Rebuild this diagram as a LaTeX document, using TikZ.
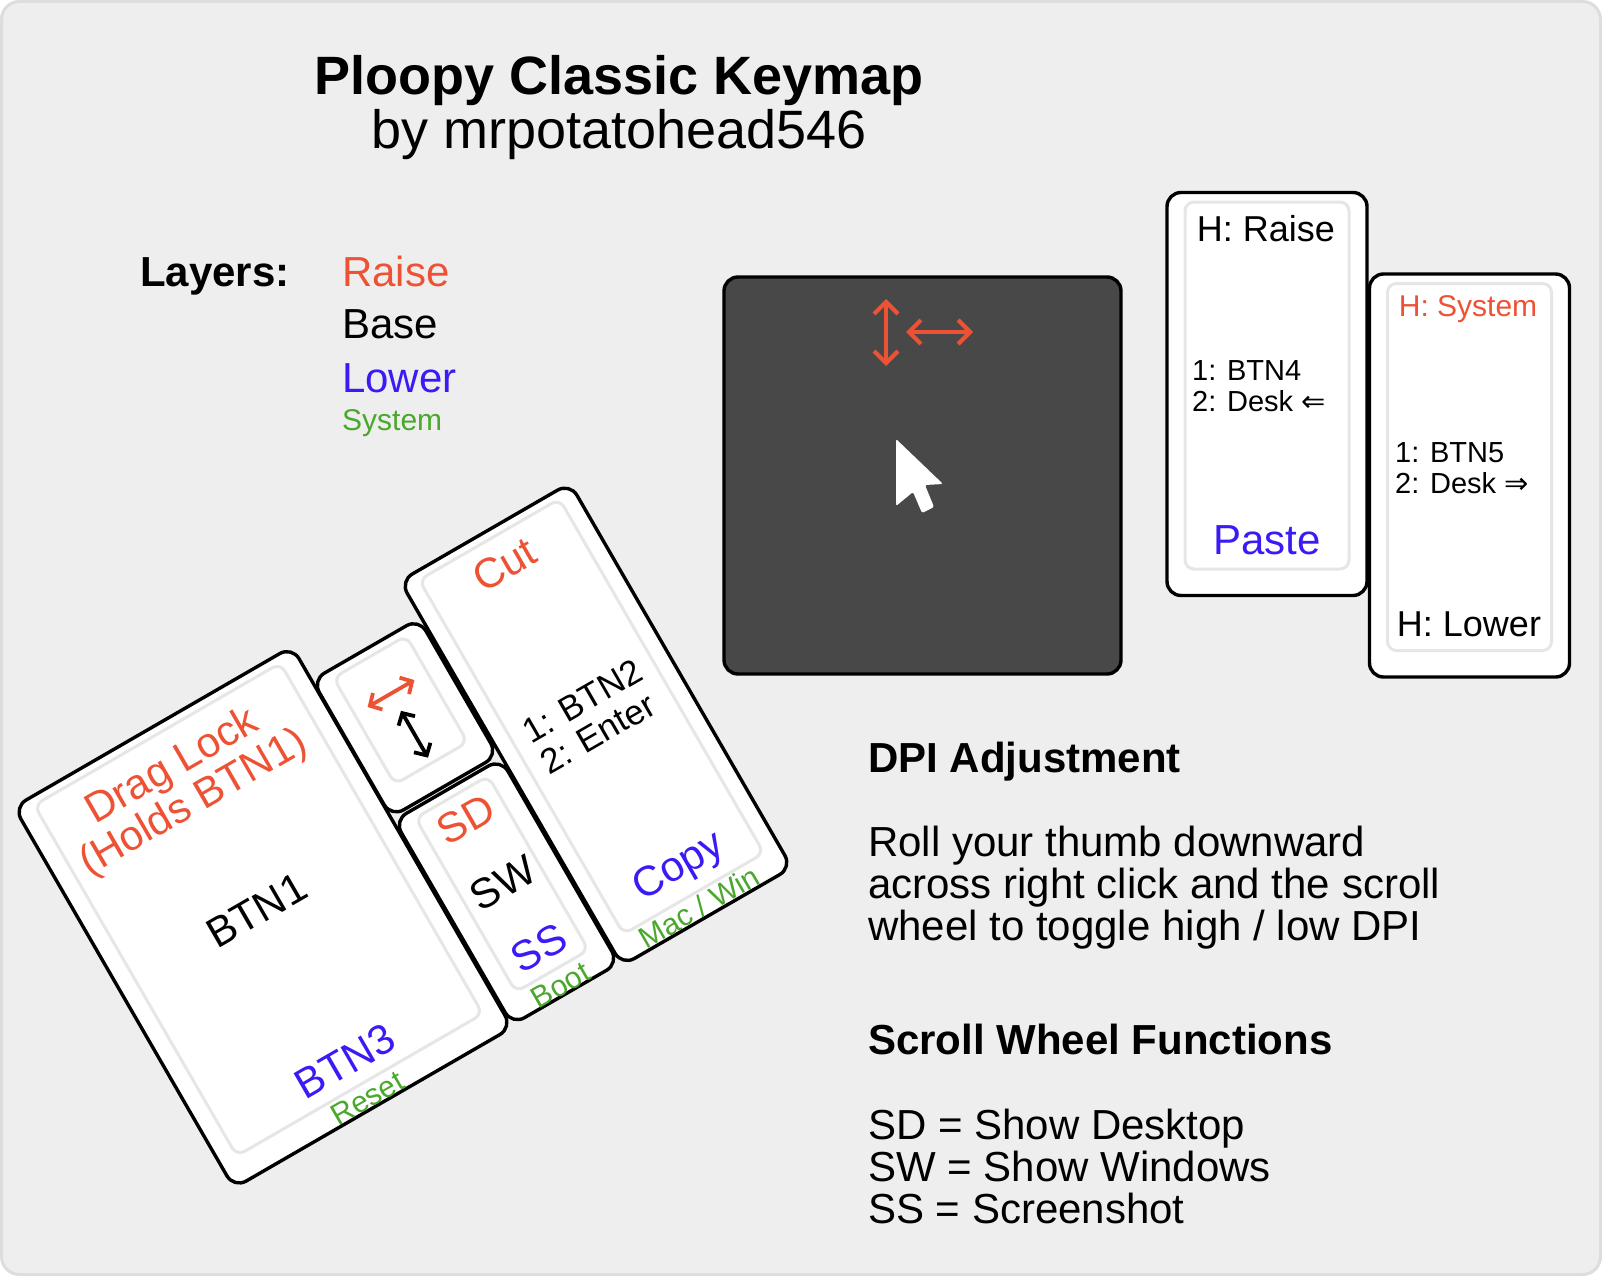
\documentclass[tikz,border=0pt]{standalone}
\usepackage{fontspec}
\setmainfont{Liberation Sans}
\newfontfamily\arrowfont{DejaVu Sans}
\usetikzlibrary{arrows.meta}
\definecolor{raisecol}{HTML}{EE5235}
\definecolor{lowercol}{HTML}{3A1BF5}
\definecolor{syscol}{HTML}{4AA82C}
\definecolor{panelcol}{HTML}{EEEEEE}
\definecolor{edgecol}{HTML}{DDDDDD}
\definecolor{innercol}{HTML}{E6E6E6}
\definecolor{padcol}{HTML}{484848}
\newcommand{\fsz}[2]{\fontsize{#1}{#2}\selectfont}
\tikzset{
  keyouter/.style={draw=black,line width=3.4pt,fill=white,rounded corners=14pt,inner sep=0pt},
  keyinner/.style={draw=innercol,line width=3pt,rounded corners=9pt,inner sep=0pt},
  raisetxt/.style={text=raisecol},
  lowertxt/.style={text=lowercol},
  systxt/.style={text=syscol,font=\fsz{30}{32}},
  icon/.style={line width=4.2pt,{Straight Barb[length=12pt,width=24pt]}-{Straight Barb[length=12pt,width=24pt]}},
  smallicon/.style={line width=3.8pt,{Straight Barb[length=9pt,width=19pt]}-{Straight Barb[length=9pt,width=19pt]}}
}
\begin{document}
\begin{tikzpicture}[x=1pt,y=1pt,every node/.style={inner sep=0pt,font=\fsz{42}{42}}]
\useasboundingbox (0,0) rectangle (1602,-1276);
\fill[white] (0,0) rectangle (1602,-1276);
\draw[edgecol,fill=panelcol,line width=3pt,rounded corners=18pt] (1.5,-1.5) rectangle (1600.5,-1274.5);
% heading and layer legend
\node[font=\bfseries\fsz{54}{56}] (title) at (619,-81) {Ploopy Classic Keymap};
\node[font=\fsz{54}{56}] (byline) at (619,-135) {by mrpotatohead546};
\node[anchor=west,font=\bfseries\fsz{42}{42}] (layers) at (140,-276) {Layers:};
\node[anchor=west,raisetxt] (lgraise) at (342,-271) {Raise};
\node[anchor=west] (lgbase) at (342,-324) {Base};
\node[anchor=west,lowertxt] (lglower) at (342,-378) {Lower};
\node[anchor=west,systxt] (lgsys) at (342,-423) {System};
% the four tilted keys, origin of each scope is the inner box
\foreach \nm/\cx/\cy/\w/\h/\iw in {btnone/258.5/909.5/321/440/284,btntwo/591.5/716.5/196/444/162,wheel/400.5/710/123/158/84,sidekey/502/884/123/236/84} {
  \begin{scope}[shift={(\cx,-\cy)},rotate=30,transform shape]
    \pgfmathsetmacro{\ih}{\h-35}
    \node[keyouter,minimum width=\w pt,minimum height=\h pt] (\nm out) at (0,-9) {};
    \node[keyinner,minimum width=\iw pt,minimum height=\ih pt] (\nm in) at (0,0) {};
  \end{scope}
}
\begin{scope}[shift={(258.5,-909.5)},rotate=30,transform shape]
  \node[raisetxt,align=center,font=\fsz{42}{42}] (draglock) at (-3,145) {Drag Lock\\(Holds BTN1)};
  \node (btnonetxt) at (-2,0) {BTN1};
  \node[lowertxt] (btnthree) at (-1,-175) {BTN3};
  \node[systxt] (reset) at (0,-218) {Reset};
\end{scope}
\begin{scope}[shift={(592,-716)},rotate=30,transform shape]
  \node[raisetxt] (cut) at (0,175) {Cut};
  \node[align=left,font=\fsz{35}{36}] (btntwotxt) at (-1,0) {1: BTN2\\2: Enter};
  \node[lowertxt] (copy) at (0,-175) {Copy};
  \node[systxt] (macwin) at (-3,-219) {Mac / Win};
\end{scope}
\begin{scope}[shift={(400.5,-710)},rotate=30]
  \draw[smallicon,raisecol] (-27,19) -- (27,19);
  \draw[smallicon,black] (0,-1) -- (0,-55);
\end{scope}
\begin{scope}[shift={(502,-884)},rotate=30,transform shape]
  \node[raisetxt] (sd) at (1,74) {SD};
  \node (sw) at (1,0) {SW};
  \node[lowertxt] (ss) at (0,-74) {SS};
  \node[systxt] (boot) at (0,-117) {Boot};
\end{scope}
% trackball pad
\node[draw=black,fill=padcol,line width=3.4pt,rounded corners=14pt,minimum width=397pt,minimum height=397pt] (pad) at (922.5,-475.5) {};
\draw[icon,raisecol] (886,-299) -- (886,-366);
\draw[icon,raisecol] (906,-332) -- (973,-332);
\fill[white,rounded corners=1.5pt] (896,-439) -- (896,-506) -- (913,-492) -- (922,-513) -- (934,-507) -- (925,-485) -- (943,-484) -- cycle;
% upright cards
\foreach \nm/\cx/\cy in {cardl/1267/-394,cardr/1469.5/-475.5} {
  \node[keyouter,minimum width=200pt,minimum height=403pt] (\nm out) at (\cx,\cy) {};
  \node[keyinner,minimum width=164pt,minimum height=367pt] (\nm in) at (\cx,\cy+8.5) {};
}
\node[font=\fsz{36}{36}] (hraise) at (1266,-229) {H: Raise};
\node[anchor=west,align=left,font=\fsz{29}{30.5}] (btnfour) at (1192,-386) {1: BTN4\\2: Desk {\arrowfont ⇐}};
\node[lowertxt] (paste) at (1267,-540) {Paste};
\node[raisetxt,font=\fsz{30}{30}] (hsys) at (1468,-309) {H: System};
\node[anchor=west,align=left,font=\fsz{29}{30.5}] (btnfive) at (1395,-468) {1: BTN5\\2: Desk {\arrowfont ⇒}};
\node[font=\fsz{36}{36}] (hlower) at (1469,-624) {H: Lower};
% notes on the right
\node[anchor=west,font=\bfseries\fsz{42}{42}] (dpihead) at (868,-762) {DPI Adjustment};
\node[anchor=west,align=left] (dpitxt) at (868,-888) {Roll your thumb downward\\across right click and the scroll\\wheel to toggle high / low DPI};
\node[anchor=west,font=\bfseries\fsz{42}{42}] (scrollhead) at (868,-1039) {Scroll Wheel Functions};
\node[anchor=west,align=left] (scrolltxt) at (868,-1166) {SD = Show Desktop\\SW = Show Windows\\SS = Screenshot};
\end{tikzpicture}
\end{document}
